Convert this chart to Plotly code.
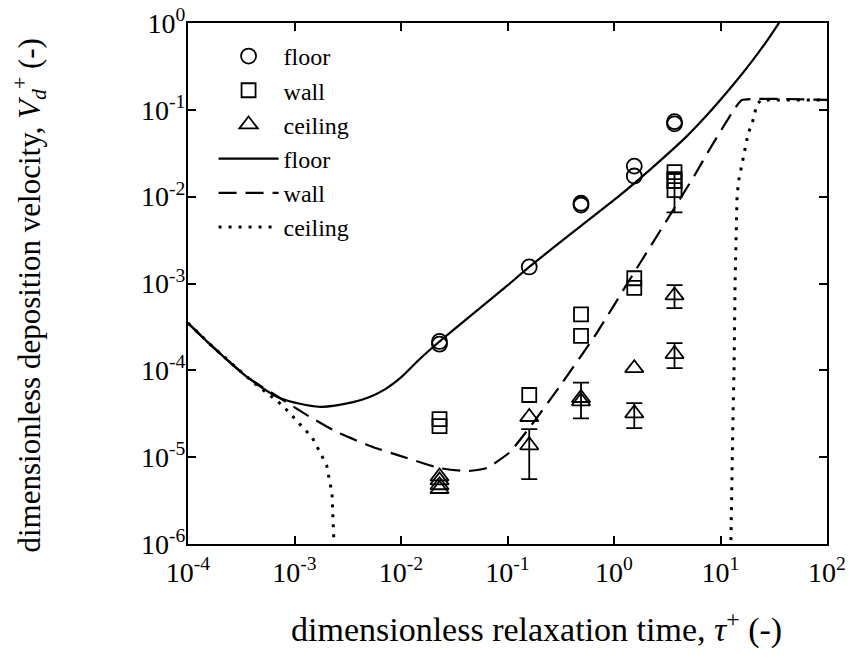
import plotly.graph_objects as go

# ---------------- data ----------------
# measured points (dimensionless relaxation time tau+, deposition velocity Vd+)
floor_tau = [0.023, 0.023, 0.16, 0.49, 0.49, 1.55, 1.55, 3.7, 3.7]
floor_vd = [2.0e-4, 2.15e-4, 1.55e-3, 8.0e-3, 8.4e-3, 2.25e-2, 1.73e-2, 0.069, 0.073]

wall_tau = [0.023, 0.023, 0.16, 0.49, 0.49, 1.55, 1.55, 3.7, 3.7, 3.7]
wall_vd = [2.74e-5, 2.28e-5, 5.2e-5, 4.4e-4, 2.5e-4, 1.15e-3, 8.9e-4, 0.0192, 0.0152, 0.0119]
wall_err_tau = [3.7]
wall_err_vd = [0.0152]
wall_err_hi = [0.0192]
wall_err_lo = [0.0066]

ceil_tau = [0.023, 0.023, 0.023, 0.023, 0.16, 0.49, 1.55]
ceil_vd = [6.0e-6, 5.4e-6, 4.75e-6, 4.3e-6, 2.9e-5, 4.4e-5, 1.06e-4]
ceil_err_tau = [0.16, 0.49, 1.55, 3.7, 3.7]
ceil_err_vd = [1.37e-5, 4.8e-5, 3.2e-5, 7.3e-4, 1.54e-4]
ceil_err_hi = [2.1e-5, 7.2e-5, 4.2e-5, 9.6e-4, 2.06e-4]
ceil_err_lo = [5.6e-6, 2.8e-5, 2.16e-5, 5.2e-4, 1.06e-4]

# model curves
floor_line_tau = [1e-4, 1.72e-4, 3.58e-4, 7.3e-4, 1.74e-3, 3.55e-3, 5e-3, 7e-3, 1e-2,
                  1.5e-2, 2.2e-2, 0.1, 0.16, 0.5, 1.14, 2.32, 4.84, 7, 10, 14, 20.2,
                  27, 34.7, 45]
floor_line_vd = [3.5e-4, 1.85e-4, 8.4e-5, 4.8e-5, 3.8e-5, 4.3e-5, 4.9e-5, 6.0e-5, 8.3e-5,
                 1.35e-4, 2.05e-4, 9.5e-4, 1.55e-3, 4.7e-3, 1.04e-2, 2.19e-2, 4.98e-2,
                 0.0798, 0.1306, 0.213, 0.376, 0.612, 0.966, 1.6]

wall_line_tau = [1e-4, 1.72e-4, 3.58e-4, 7.3e-4, 1.31e-3, 2.5e-3, 5.5e-3, 9.5e-3, 0.023,
                 0.0415, 0.064, 0.105, 0.173, 0.33, 0.69, 1.4, 3.74, 5.77, 8.1, 13.7,
                 15.9, 100]
wall_line_vd = [3.5e-4, 1.85e-4, 8.4e-5, 4.8e-5, 3.05e-5, 1.94e-5, 1.3e-5, 1.05e-5, 7.5e-6,
                6.9e-6, 7.5e-6, 1.14e-5, 2.46e-5, 7.3e-5, 2.7e-4, 1.1e-3, 7.6e-3, 1.8e-2,
                3.7e-2, 0.105, 0.13, 0.13]

ceil_line_tau = [1e-4, 1.72e-4, 3.58e-4, 4.45e-4, 6.8e-4, 8.1e-4, 1.2e-3, 1.46e-3, 1.62e-3,
                 1.8e-3, 2.0e-3, 2.25e-3, 2.35e-3, 2.4e-3, None,
                 12.4, 12.5, 12.9, 13.2, 13.4, 13.7, 14.3, 14.8, 16.3, 18.2, 19.8, 21.9,
                 24, 100]
ceil_line_vd = [3.5e-4, 1.85e-4, 8.4e-5, 6.7e-5, 4.5e-5, 3.7e-5, 2.2e-5, 1.7e-5, 1.34e-5,
                1.05e-5, 8.1e-6, 3.85e-6, 1.2e-6, 5e-7, None,
                5e-7, 1.3e-6, 1e-5, 4.5e-5, 1e-4, 1e-3, 1e-2, 0.0152, 0.028, 0.054, 0.069,
                0.114, 0.13, 0.13]

x_tickvals = [1e-4, 1e-3, 1e-2, 1e-1, 1e0, 1e1, 1e2]
x_ticktext = ["10<sup>-4</sup>", "10<sup>-3</sup>", "10<sup>-2</sup>", "10<sup>-1</sup>",
              "10<sup>0</sup>", "10<sup>1</sup>", "10<sup>2</sup>"]
y_tickvals = [1e-6, 1e-5, 1e-4, 1e-3, 1e-2, 1e-1, 1e0]
y_ticktext = ["10<sup>-6</sup>", "10<sup>-5</sup>", "10<sup>-4</sup>", "10<sup>-3</sup>",
              "10<sup>-2</sup>", "10<sup>-1</sup>", "10<sup>0</sup>"]

x_title = "dimensionless relaxation time, <i>τ</i><sup>+</sup> (-)"
y_title = "dimensionless deposition velocity, <i>V</i><sub><i>d</i></sub><sup>+</sup> (-)"

# ---------------- figure ----------------
FONT = "Liberation Serif"
BLACK = "black"
mk_line = dict(color=BLACK, width=1.8)

fig = go.Figure()

fig.add_trace(go.Scatter(
    x=floor_tau, y=floor_vd, mode="markers", name="floor",
    marker=dict(symbol="circle-open", size=15, color=BLACK, line=mk_line)))
fig.add_trace(go.Scatter(
    x=wall_tau, y=wall_vd, mode="markers", name="wall",
    marker=dict(symbol="square-open", size=14, color=BLACK, line=mk_line)))
fig.add_trace(go.Scatter(
    x=ceil_tau, y=ceil_vd, mode="markers", name="ceiling",
    marker=dict(symbol="triangle-up-open", size=16, color=BLACK, line=mk_line)))

fig.add_trace(go.Scatter(
    x=floor_line_tau, y=floor_line_vd, mode="lines", name="floor",
    line=dict(color=BLACK, width=2.2, shape="spline", smoothing=0.8)))
fig.add_trace(go.Scatter(
    x=wall_line_tau, y=wall_line_vd, mode="lines", name="wall",
    line=dict(color=BLACK, width=2.2, dash="18px,9px", shape="spline", smoothing=0.4)))
fig.add_trace(go.Scatter(
    x=ceil_line_tau, y=ceil_line_vd, mode="lines", name="ceiling",
    line=dict(color=BLACK, width=3, dash="3px,7px")))

# error-bar points
fig.add_trace(go.Scatter(
    x=wall_err_tau, y=wall_err_vd, mode="markers", showlegend=False,
    marker=dict(symbol="square-open", size=14, color=BLACK, line=mk_line),
    error_y=dict(type="data", symmetric=False,
                 array=[h - v for h, v in zip(wall_err_hi, wall_err_vd)],
                 arrayminus=[v - l for l, v in zip(wall_err_lo, wall_err_vd)],
                 color=BLACK, thickness=1.8, width=8)))
fig.add_trace(go.Scatter(
    x=ceil_err_tau, y=ceil_err_vd, mode="markers", showlegend=False,
    marker=dict(symbol="triangle-up-open", size=16, color=BLACK, line=mk_line),
    error_y=dict(type="data", symmetric=False,
                 array=[h - v for h, v in zip(ceil_err_hi, ceil_err_vd)],
                 arrayminus=[v - l for l, v in zip(ceil_err_lo, ceil_err_vd)],
                 color=BLACK, thickness=1.8, width=8)))

tickfont = dict(family=FONT, size=28, color=BLACK)
axis_common = dict(type="log", showgrid=False, zeroline=False, showline=True,
                   linecolor=BLACK, linewidth=2, mirror="ticks", ticks="inside",
                   ticklen=8, tickwidth=1.5, tickcolor=BLACK, tickfont=tickfont,
                   automargin=False, ticklabeloverflow="allow")

fig.update_xaxes(**axis_common, range=[-4, 2], tickvals=x_tickvals, ticktext=x_ticktext,
                 ticklabelstandoff=2)
fig.update_yaxes(**axis_common, range=[-6, 0], tickvals=y_tickvals, ticktext=y_ticktext,
                 ticklabelstandoff=-5)

fig.add_annotation(text=x_title, xref="paper", yref="paper", x=0.545, y=-0.16,
                   xanchor="center", yanchor="middle", showarrow=False,
                   font=dict(family=FONT, size=34, color=BLACK))
fig.add_annotation(text=y_title, xref="paper", yref="paper", x=-0.248, y=0.476,
                   xanchor="center", yanchor="middle", showarrow=False, textangle=-90,
                   font=dict(family=FONT, size=31, color=BLACK))

fig.update_layout(
    width=851, height=661,
    margin=dict(l=188, r=24, t=23, b=117),
    plot_bgcolor="white", paper_bgcolor="white",
    font=dict(family=FONT, color=BLACK),
    legend=dict(x=0.04, y=0.979, xanchor="left", yanchor="top",
                bgcolor="rgba(0,0,0,0)", borderwidth=0,
                font=dict(family=FONT, size=24, color=BLACK),
                tracegroupgap=0, itemwidth=60),
)

# remove the default 8 px page margin so the figure fills the window exactly
fig.write_html("out.html", config={"displayModeBar": False},
               post_script="document.body.style.margin='0px';")
